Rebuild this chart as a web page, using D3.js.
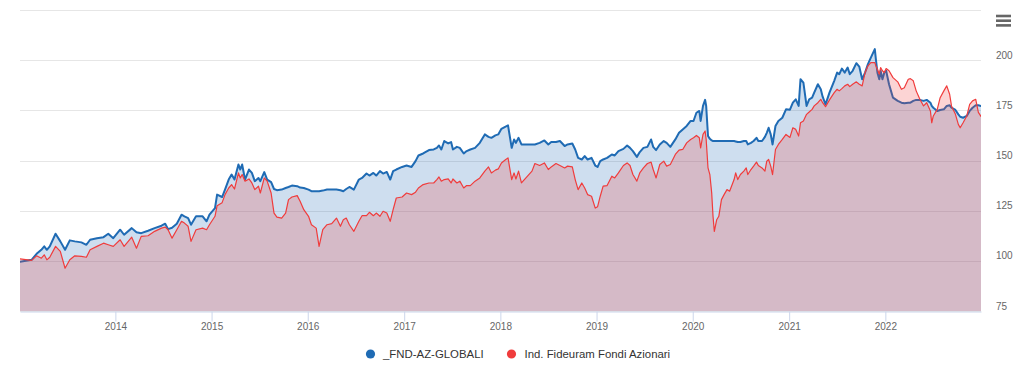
<!DOCTYPE html>
<html>
<head>
<meta charset="utf-8">
<script src="https://cdn.jsdelivr.net/npm/d3@7"></script>
<style>
  html, body { margin: 0; padding: 0; background: #ffffff; }
  svg { display: block; font-family: "Liberation Sans", Arial, Helvetica, sans-serif; }
</style>
</head>
<body>
<svg id="chart" width="1024" height="376"></svg>
<script>
// ---------------- DATA ----------------
const dates = [
  "2013-01-04","2013-02-17","2013-03-08","2013-03-26","2013-04-06","2013-04-16","2013-04-27","2013-05-19","2013-06-06","2013-06-24",
  "2013-07-12","2013-07-31","2013-08-25","2013-09-13","2013-09-27","2013-10-23","2013-11-17","2013-12-05","2013-12-24","2014-01-19",
  "2014-02-03","2014-03-04","2014-03-22","2014-04-09","2014-05-05","2014-05-30","2014-06-25","2014-07-09","2014-07-20","2014-08-04",
  "2014-08-22","2014-09-09","2014-09-20","2014-10-04","2014-10-15","2014-11-03","2014-11-28","2014-12-13","2014-12-24","2015-01-14",
  "2015-01-22","2015-02-10","2015-02-21","2015-03-07","2015-03-18","2015-03-29","2015-04-13","2015-04-20","2015-04-27","2015-05-08",
  "2015-05-23","2015-06-03","2015-06-14","2015-06-28","2015-07-05","2015-07-20","2015-07-31","2015-08-15","2015-08-26","2015-09-06",
  "2015-09-24","2015-10-09","2015-10-20","2015-11-02","2015-11-22","2015-12-03","2015-12-17","2016-01-04","2016-01-15","2016-02-02",
  "2016-02-13","2016-02-27","2016-03-14","2016-04-01","2016-04-19","2016-05-04","2016-05-15","2016-05-26","2016-06-07","2016-06-24",
  "2016-07-13","2016-07-25","2016-08-11","2016-08-22","2016-09-06","2016-09-17","2016-10-01","2016-10-13","2016-10-27","2016-11-09",
  "2016-11-20","2016-12-02","2016-12-24","2017-01-10","2017-01-29","2017-02-13","2017-02-24","2017-03-14","2017-04-05","2017-04-23",
  "2017-05-05","2017-05-13","2017-05-22","2017-06-02","2017-06-17","2017-06-28","2017-07-05","2017-07-20","2017-07-31","2017-08-15",
  "2017-08-26","2017-09-09","2017-09-27","2017-10-15","2017-11-03","2017-11-17","2017-11-28","2017-12-13","2017-12-24","2018-01-05",
  "2018-01-19","2018-01-30","2018-02-13","2018-02-22","2018-03-01","2018-03-11","2018-03-22","2018-04-02","2018-05-01","2018-05-12",
  "2018-05-30","2018-06-17","2018-07-02","2018-07-13","2018-07-31","2018-08-15","2018-09-02","2018-09-13","2018-10-01","2018-10-12",
  "2018-10-23","2018-11-06","2018-11-17","2018-11-28","2018-12-13","2018-12-27","2019-01-05","2019-01-15","2019-01-26","2019-02-10",
  "2019-02-28","2019-03-11","2019-03-25","2019-04-13","2019-04-27","2019-05-08","2019-05-19","2019-06-03","2019-06-14","2019-06-28",
  "2019-07-13","2019-07-27","2019-08-04","2019-08-15","2019-08-29","2019-09-13","2019-09-24","2019-10-08","2019-10-27","2019-11-10",
  "2019-11-24","2019-12-09","2019-12-24","2020-01-04","2020-01-15","2020-01-26","2020-01-31","2020-02-09","2020-02-17","2020-02-21",
  "2020-02-28","2020-03-06","2020-03-13","2020-03-18","2020-03-23","2020-04-01","2020-04-09","2020-04-19","2020-04-29","2020-05-10",
  "2020-05-20","2020-06-06","2020-06-12","2020-06-20","2020-06-30","2020-07-13","2020-07-22","2020-07-28","2020-08-09","2020-08-19",
  "2020-08-30","2020-09-06","2020-09-20","2020-10-01","2020-10-08","2020-10-15","2020-10-23","2020-10-30","2020-11-10","2020-11-21",
  "2020-12-06","2020-12-20","2021-01-04","2021-01-15","2021-01-26","2021-02-06","2021-02-13","2021-02-24","2021-03-08","2021-03-18",
  "2021-03-29","2021-04-06","2021-04-20","2021-05-01","2021-05-08","2021-05-19","2021-06-03","2021-06-21","2021-07-02","2021-07-10",
  "2021-07-20","2021-07-31","2021-08-11","2021-08-19","2021-08-30","2021-09-13","2021-09-24","2021-10-05","2021-10-16","2021-10-27",
  "2021-11-07","2021-11-22","2021-11-26","2021-12-02","2021-12-09","2021-12-14","2021-12-21","2021-12-28","2022-01-04","2022-01-15",
  "2022-01-30","2022-02-17","2022-03-03","2022-03-14","2022-03-29","2022-04-06","2022-04-17","2022-04-28","2022-05-12","2022-05-26",
  "2022-06-07","2022-06-21","2022-06-26","2022-07-02","2022-07-17","2022-07-28","2022-08-11","2022-08-22","2022-09-02","2022-09-09",
  "2022-09-24","2022-10-05","2022-10-12","2022-10-23","2022-11-06","2022-11-17","2022-11-28","2022-12-10","2022-12-20","2022-12-30"
];

// _FND-AZ-GLOBALI
const fundValues = [
  99.5,100.5,103.5,105.5,107.2,105.5,107.2,113.5,109.7,105.5,
  110.2,109.7,109.2,108,110.5,111.3,111.8,113.5,111.3,115.5,
  113,116.3,114.2,113.8,115,116.3,117.5,118.5,115.8,116.5,
  118.5,123,122.2,121.3,118,122.2,122.2,119.7,123,126.3,
  133,131.8,135.5,140.5,143,140.5,148,145.5,148,140.5,
  145.5,143.8,139.7,141.3,139.7,144.2,140.5,139.2,135.8,135.2,
  135.5,136.3,136.8,137.5,137.2,136.5,136.3,135.5,134.7,134.7,
  134.7,135,135.5,135.5,135.5,135.2,134.7,135.8,136.8,135.5,
  140.5,141.3,143.5,142.5,143.8,142.5,144.7,143.5,144.3,140.5,
  144.7,145.5,146.8,147.5,146.8,149.7,152.5,153.5,155.2,155.5,
  156.3,157.5,155.5,159.7,158.5,159.2,155.5,156.8,156.3,153.5,
  154.7,155.5,156.3,158.8,163,161.8,161.3,162.5,163,165.8,
  166.8,167.5,156.3,160.5,158.8,161.3,158,158,158,158,
  158.8,160,158,159.2,159.2,159.7,157.2,158,158.5,155.5,
  151.3,150.5,152.2,150.5,151.3,147.5,146.8,149.7,150.5,151.3,
  153,152.5,154.7,155.8,157.5,156.3,154.7,151.8,154.2,156.3,
  156.8,160.5,156.8,155.2,158,159.7,158.8,156.8,160.5,163.8,
  165.5,167.2,169.7,169.7,173.8,174.7,169.7,177.2,180.2,177.2,
  162.2,160.8,160,159.7,159.7,159.7,159.7,159.7,159.7,159.7,
  159.7,159.7,159.5,159.2,159.2,159.7,159.7,158,158.8,159.7,
  161.3,159.7,159.7,161.8,163.8,166.3,163,158,167.2,169.7,
  171.3,175.5,175.3,178.8,180.5,177.2,190.5,188.8,177.2,180.5,
  181.3,183.8,188,185.5,181.8,178,183.8,189.7,193.8,193,
  195.8,193.8,196.3,193,194.7,198.5,196.8,190.5,193.8,198,
  201.3,205.5,200.5,193.8,190.5,194.7,190.5,193.8,194.7,188,
  181.3,179.7,178.8,178.5,178.8,178.8,179.7,180.2,180.2,179.7,
  180.2,178.8,177.2,176.3,174.7,175.2,175.5,177.2,177.5,176.3,
  175.2,173,171.8,171.3,172.2,174.7,176.3,177.5,177.5,177.2
];

// Ind. Fideuram Fondi Azionari
const indexValues = [
  101,100.2,102.5,101.3,103,100.5,101.8,107.2,104.7,96.3,
  100.5,102.5,102.2,101.8,105.5,107.2,108.8,108,107.2,110.5,
  107.2,111.8,106.3,112.2,112.5,114.7,116.3,116.8,115.5,111.3,
  115.5,119.7,118.8,117.2,109.7,115.5,116.3,115.5,118,122.2,
  127.5,129,133,136.3,138,135.8,143.8,141.3,143,139.7,
  140.8,138.8,135.5,137.2,133.8,141.3,139.7,133.8,123.8,121.8,
  121.3,123.8,130.5,131.8,132.5,129.7,125.5,122.2,118,116.3,
  107.2,115.5,118,118.5,121.3,117.2,120.5,121.3,118,114.7,
  119.7,122.5,122.5,124.2,122.5,123.8,122.2,124.7,123.8,119.7,
  125.5,131.3,131.8,133.8,133,134.2,136.3,138,138.8,138.8,
  140.5,141.8,139.7,140.5,140.8,138.8,140.8,138.8,139.7,136.3,
  137.5,137.5,139.7,141.3,144.7,146.8,143.8,145.2,145.8,148.8,
  150.2,151.3,140.5,143.8,140.8,144.7,138.8,140.5,144.7,148.5,
  147.5,148.8,145.5,146.8,148.5,147.5,146.3,147.2,146.8,140.5,
  135.5,138.8,136.3,133,132.2,126.3,127,132.2,137.2,137.5,
  142.2,141.3,143.8,147.5,148.8,147.5,143,139.7,143.8,146.3,
  148.5,149.2,145.5,141.3,148,149.7,147.2,148,153,155.2,
  155.5,158.8,160.5,161.3,162.5,161.3,156.3,163,164.7,160.5,
  146.3,143,133.8,122.2,114.7,120.5,122.2,130.5,133,135.5,
  134.7,140.5,143.8,140.5,143,144.7,146.3,143,145.5,147.2,
  149.2,147.5,146.3,144.7,149.7,150.5,147.2,143,155.5,158,
  160.5,163,161.5,166.3,165.5,162.2,168.8,169.7,173,174.2,
  175.5,177.2,178.8,180.5,178.8,176.8,180.2,183.8,185.5,184.7,
  185.8,187.2,188,186.8,188,189.2,188,187.2,193.8,197.2,
  198.8,198.8,197.2,195.5,193,196.3,194.7,193.8,195.8,194.7,
  191.3,189.2,185.5,186.3,190.5,190.8,189.7,184.7,180.5,177.2,
  178.8,174.7,168.8,172.2,175.5,181.3,184.7,187.2,183,177.2,
  173,168,166.3,168.8,172.2,178,179.7,180.5,174,172
];

const seriesNames = ["_FND-AZ-GLOBALI", "Ind. Fideuram Fondi Azionari"];
const seriesColors = ["#1f6bb4", "#f03c3c"];
const gridValues = [75, 100, 125, 150, 175, 200, 225];
const yLabelValues = [75, 100, 125, 150, 175, 200];
const xTickYears = [2014, 2015, 2016, 2017, 2018, 2019, 2020, 2021, 2022];

// ---------------- CHART ----------------
const svg = d3.select("#chart");
const plot = { left: 20, right: 981, top: 10, bottom: 311 };
const parse = d3.timeParse("%Y-%m-%d");
const parsedDates = dates.map(parse);

const x = d3.scaleTime().domain(d3.extent(parsedDates)).range([plot.left, plot.right]);
const y = d3.scaleLinear().domain([75, 225]).range([plot.bottom, plot.top]);

svg.append("defs").append("clipPath").attr("id", "plotClip")
  .append("rect").attr("x", plot.left).attr("y", plot.top)
  .attr("width", plot.right - plot.left).attr("height", plot.bottom - plot.top);

// gridlines
svg.append("g").selectAll("line").data(gridValues).join("line")
  .attr("x1", plot.left).attr("x2", plot.right)
  .attr("y1", d => Math.round(y(d)) + 0.5).attr("y2", d => Math.round(y(d)) + 0.5)
  .attr("stroke", "#e6e6e6").attr("stroke-width", 1);

const series = [fundValues, indexValues].map((vals, i) => ({
  name: seriesNames[i], color: seriesColors[i],
  points: vals.map((v, j) => ({ date: parsedDates[j], v }))
}));

const area = d3.area().x(d => x(d.date)).y0(y(75)).y1(d => y(d.v));
const line = d3.line().x(d => x(d.date)).y(d => y(d.v));

const seriesG = svg.append("g").attr("clip-path", "url(#plotClip)");
series.forEach((s, i) => {
  seriesG.append("path").datum(s.points)
    .attr("d", area).attr("fill", s.color).attr("fill-opacity", 0.22);
  seriesG.append("path").datum(s.points)
    .attr("d", line).attr("fill", "none").attr("stroke", s.color)
    .attr("stroke-width", i === 0 ? 2 : 1.2)
    .attr("stroke-linejoin", "round").attr("stroke-linecap", "round");
});

// x axis
const xAxis = d3.axisBottom(x)
  .tickValues(xTickYears.map(yr => new Date(yr, 0, 1)))
  .tickFormat(d3.timeFormat("%Y"))
  .tickSize(10).tickSizeOuter(0).tickPadding(1);
const gx = svg.append("g").attr("transform", `translate(0,${plot.bottom + 0.5})`).call(xAxis);
gx.select(".domain").attr("stroke", "#ccd6eb");
gx.selectAll(".tick line").attr("stroke", "#ccd6eb");
gx.selectAll(".tick text").attr("fill", "#666666").style("font-size", "10px")
  .style("font-family", "'Liberation Sans', Arial, sans-serif");

// y axis (right)
const yAxis = d3.axisRight(y).tickValues(yLabelValues).tickSize(0).tickPadding(0);
const gy = svg.append("g").attr("transform", "translate(996,0)").call(yAxis);
gy.select(".domain").remove();
gy.selectAll(".tick text").attr("fill", "#666666").attr("dy", -2)
  .style("font-size", "10px").style("font-family", "'Liberation Sans', Arial, sans-serif");

// context menu icon
const menu = svg.append("g").attr("class", "menu-icon");
[16, 20.7, 25.4].forEach(yy => {
  menu.append("line").attr("x1", 996).attr("x2", 1011).attr("y1", yy).attr("y2", yy)
    .attr("stroke", "#666666").attr("stroke-width", 2.6);
});

// legend
const legendItems = [
  { cx: 370.5, tx: 383, i: 0 },
  { cx: 511.5, tx: 524.5, i: 1 }
];
const legend = svg.append("g");
legendItems.forEach(it => {
  legend.append("circle").attr("cx", it.cx).attr("cy", 354).attr("r", 4.6)
    .attr("fill", seriesColors[it.i]);
  legend.append("text").attr("x", it.tx).attr("y", 358)
    .attr("fill", "#333333").style("font-size", "11.4px")
    .text(seriesNames[it.i]);
});
</script>
</body>
</html>
